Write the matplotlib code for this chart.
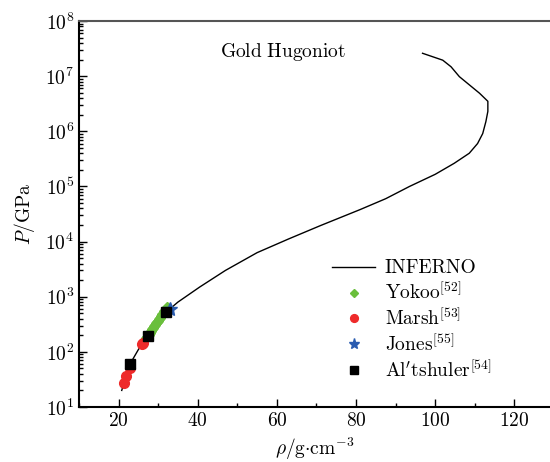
#!/usr/bin/env python

import numpy as np
import matplotlib
matplotlib.use('Agg')
from matplotlib import rcParams
rcParams['font.family'] = 'serif'
rcParams['font.serif'] = ['cmr10']
rcParams['mathtext.fontset'] = 'cm'
rcParams['axes.formatter.use_mathtext'] = True
rcParams['axes.unicode_minus'] = False
import matplotlib.pyplot as plt
import matplotlib.ticker as ticker

# INFERNO Hugoniot curve (rho in g/cm^3, P in GPa)
inferno_rho = [20.8, 21.8, 23.0, 25.0, 27.4, 29.7, 32.0, 35.0, 40.5, 47.0,
               55.0, 63.0, 71.0, 81.0, 87.5, 93.5, 100.0, 104.8, 108.6,
               110.7, 112.0, 112.8, 113.3, 113.3, 111.2, 106.1, 104.0,
               101.9, 96.8]
inferno_p = [20, 35, 62, 110, 195, 340, 525, 800, 1500, 3000,
             6300, 11200, 19500, 38000, 60000, 100000, 166000, 263000, 400000,
             600000, 910000, 1500000, 2300000, 3500000, 4900000, 9800000,
             14800000, 19500000, 26000000]

# experimental data
yokoo_rho = [27.0, 27.3, 27.6, 27.9, 28.1, 28.4, 28.6, 28.9, 29.1, 29.4, 29.6,
             29.9, 30.1, 30.4, 30.6, 30.9, 31.1, 31.4, 31.6, 31.9, 32.1, 32.3]
yokoo_p = [175, 190, 205, 222, 235, 255, 268, 290, 305, 330, 345,
           370, 390, 420, 440, 470, 495, 525, 550, 585, 610, 640]

marsh_rho = [21.3, 21.9, 22.8, 26.0, 26.3]
marsh_p = [27, 37, 52, 138, 142]

jones_rho = [32.9]
jones_p = [600]

altshuler_rho = [23.0, 27.4, 32.0]
altshuler_p = [60, 192, 525]

x_ticks = [20, 40, 60, 80, 100, 120]
x_minor = [10, 30, 50, 70, 90, 110]
y_ticks = [1e1, 1e2, 1e3, 1e4, 1e5, 1e6, 1e7, 1e8]


def plot():
    fig = plt.figure(figsize=(5.5, 4.62), dpi=100)
    ax = fig.add_axes([0.1436, 0.119, 0.8564, 0.8355])

    ax.plot(inferno_rho, inferno_p, color='black', lw=1.0, label='INFERNO',
            zorder=2)
    ax.plot(yokoo_rho, yokoo_p, ls='none', marker='D', ms=5.5,
            color='#6abf3c', mec='#6abf3c', label=r'$\mathrm{Yokoo}^{[52]}$',
            zorder=3)
    ax.plot(marsh_rho, marsh_p, ls='none', marker='o', ms=7,
            color='#ee2a2a', mec='#ee2a2a', label=r'$\mathrm{Marsh}^{[53]}$',
            zorder=3)
    ax.plot(jones_rho, jones_p, ls='none', marker='*', ms=10,
            color='#2a5cb0', mec='#2a5cb0', label=r'$\mathrm{Jones}^{[55]}$',
            zorder=3)
    ax.plot(altshuler_rho, altshuler_p, ls='none', marker='s', ms=6.5,
            color='black', label=r"$\mathrm{Al'tshuler}^{[54]}$", zorder=4)

    ax.set_yscale('log')
    ax.set_xlim(10, 129)
    ax.set_ylim(1e1, 1e8)
    ax.set_xticks(x_ticks)
    ax.set_xticks(x_minor, minor=True)
    ax.set_yticks(y_ticks)
    ax.yaxis.set_major_formatter(ticker.LogFormatterSciNotation())
    ax.yaxis.set_minor_locator(ticker.LogLocator(base=10, subs=np.arange(2, 10),
                                                 numticks=10))
    ax.yaxis.set_minor_formatter(ticker.NullFormatter())

    ax.tick_params(which='both', direction='in', labelsize=14, width=1.0)
    ax.tick_params(which='major', length=6)
    ax.tick_params(which='minor', length=3)

    ax.spines['right'].set_visible(False)
    ax.spines['top'].set_color('#555555')
    ax.spines['top'].set_linewidth(1.5)
    ax.spines['left'].set_linewidth(1.5)
    ax.spines['bottom'].set_linewidth(1.5)

    ax.set_xlabel(r'$\rho/\mathrm{g{\cdot}cm^{-3}}$', fontsize=14, labelpad=4)
    ax.set_ylabel(r'$P/\mathrm{GPa}$', fontsize=14, labelpad=6)

    ax.text(61.5, 2.7e7, r'$\mathrm{Gold\ Hugoniot}$', fontsize=14,
            ha='center', va='center')

    ax.legend(loc='upper left', bbox_to_anchor=(0.538, 0.382), frameon=False,
              fontsize=14, handlelength=2.2, labelspacing=0.2, borderpad=0,
              borderaxespad=0, handletextpad=0.5, markerscale=0.8,
              numpoints=1)

    fig.savefig('out.png')
    plt.close('all')


if __name__ == '__main__':
    plot()
